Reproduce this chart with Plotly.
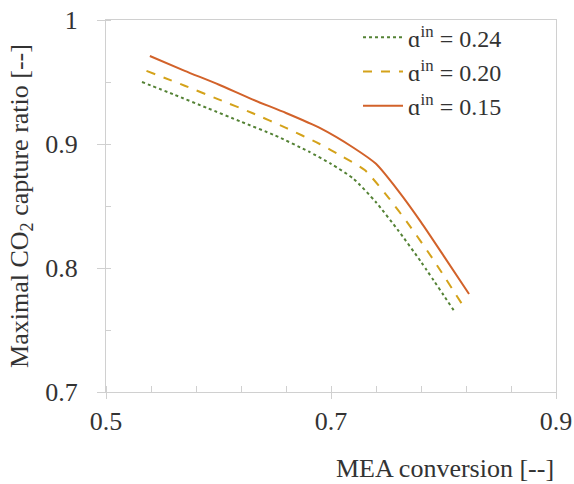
import plotly.graph_objects as go

# Data
x_024 = [0.532, 0.56, 0.59, 0.62, 0.65, 0.68, 0.70, 0.72, 0.74, 0.76, 0.78, 0.809]
y_024 = [0.950, 0.940, 0.929, 0.918, 0.907, 0.894, 0.884, 0.872, 0.853, 0.830, 0.805, 0.766]

x_020 = [0.536, 0.57, 0.60, 0.63, 0.66, 0.69, 0.71, 0.73, 0.75, 0.77, 0.79, 0.8164]
y_020 = [0.959, 0.947, 0.936, 0.925, 0.913, 0.900, 0.890, 0.879, 0.858, 0.834, 0.808, 0.771]

x_015 = [0.539, 0.57, 0.60, 0.63, 0.66, 0.69, 0.72, 0.74, 0.76, 0.78, 0.80, 0.8227]
y_015 = [0.971, 0.959, 0.948, 0.936, 0.925, 0.913, 0.897, 0.884, 0.862, 0.837, 0.810, 0.779]

names = ["ɑ<sup>in</sup> = 0.24", "ɑ<sup>in</sup> = 0.20", "ɑ<sup>in</sup> = 0.15"]
colors = ["#548235", "#D4A21A", "#D2622A"]
dashes = ["dot", "dash", "solid"]

x_ticks = [0.5, 0.7, 0.9]
y_ticks = [0.7, 0.8, 0.9, 1.0]
y_ticklabels = ["0.7", "0.8", "0.9", "1"]

FONT = "Liberation Serif, Times New Roman, serif"
TXT = "#333333"
AX = "#d0d0d0"
FS = 26

fig = go.Figure()
for xs, ys, n, c, d in zip([x_024, x_020, x_015], [y_024, y_020, y_015], names, colors, dashes):
    fig.add_trace(go.Scatter(x=xs, y=ys, mode="lines", name=n,
                             line=dict(color=c, width=2, dash=d, shape="spline", smoothing=0.6)))

fig.update_layout(
    width=574, height=484,
    margin=dict(l=106, r=18, t=20, b=92, autoexpand=False),
    paper_bgcolor="white", plot_bgcolor="white",
    font=dict(family=FONT, size=FS, color=TXT),
    showlegend=True,
    legend=dict(x=0.56, y=1.013, xanchor="left", yanchor="top",
                bgcolor="rgba(0,0,0,0)", font=dict(family=FONT, size=24, color=TXT),
                tracegroupgap=0, itemwidth=40),
    xaxis=dict(range=[0.5, 0.9], tickvals=x_ticks, ticktext=[str(v) for v in x_ticks],
               automargin=False,
               showgrid=False, zeroline=False, showline=True, linecolor=AX, linewidth=1,
               mirror=True, ticks="outside", ticklen=6, tickcolor=AX,
               minor=dict(dtick=0.04, tick0=0.5, ticks="inside", ticklen=6, tickcolor=AX, showgrid=False),
               tickfont=dict(family=FONT, size=FS, color=TXT)),
    yaxis=dict(range=[0.7, 1.0], tickvals=y_ticks, ticktext=y_ticklabels,
               automargin=False,
               showgrid=False, zeroline=False, showline=True, linecolor=AX, linewidth=1,
               mirror=True, ticks="outside", ticklen=8, tickcolor=AX, ticklabelstandoff=14,
               minor=dict(dtick=0.05, tick0=0.7, ticks="inside", ticklen=5, tickcolor=AX, showgrid=False),
               tickfont=dict(family=FONT, size=FS, color=TXT),
               title=dict(text="Maximal CO<sub>2</sub> capture ratio [--]", standoff=9,
                          font=dict(family=FONT, size=FS, color=TXT))),
)

fig.add_annotation(text="MEA conversion [--]", xref="paper", yref="paper",
                   x=1.0, y=0, xanchor="right", yanchor="middle", yshift=-76,
                   showarrow=False, font=dict(family=FONT, size=FS, color=TXT))

fig.write_html("out.html", config={"displayModeBar": False},
               post_script="document.body.style.margin='0';")
